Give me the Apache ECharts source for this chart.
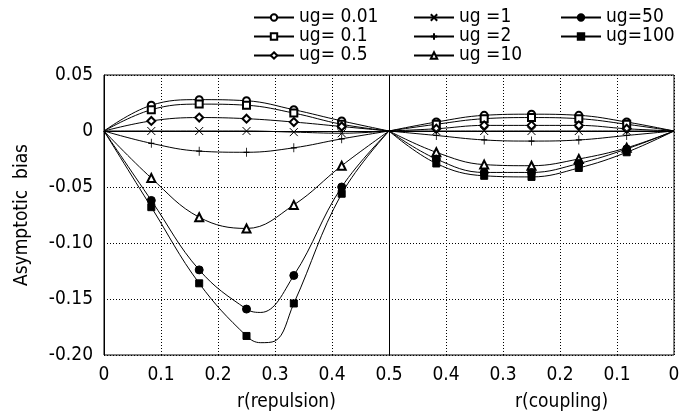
<!DOCTYPE html>
<html>
<head>
<meta charset="utf-8">
<script src="https://cdn.jsdelivr.net/npm/echarts@6/dist/echarts.min.js"></script>
<style>html,body{margin:0;padding:0;background:#fff;}#c{width:699px;height:414px;}</style>
</head>
<body>
<div id="c"></div>
<script>
// r values where the markers sit (same in both panels)
const rPoints = [0.083, 0.167, 0.25, 0.333, 0.417];

// Asymptotic bias, repulsion panel (r ascending)
const repulsion = {
  'ug= 0.01': [0.023, 0.028, 0.027, 0.019, 0.009],
  'ug= 0.1':  [0.019, 0.024, 0.023, 0.016, 0.006],
  'ug= 0.5':  [0.009, 0.012, 0.011, 0.008, 0.004],
  'ug =1':    [0.000, 0.000, 0.000, -0.001, -0.002],
  'ug =2':    [-0.011, -0.018, -0.019, -0.015, -0.007],
  'ug =10':   [-0.042, -0.077, -0.087, -0.066, -0.031],
  'ug=50':    [-0.062, -0.124, -0.159, -0.129, -0.050],
  'ug=100':   [-0.068, -0.136, -0.183, -0.154, -0.056]
};
// Curve troughs (no marker there): [r, bias]
const repulsionTrough = {
  'ug=50':  [[0.275, -0.162]],
  'ug=100': [[0.275, -0.189], [0.300, -0.1875]]
};
// Asymptotic bias, coupling panel (r ascending)
const coupling = {
  'ug= 0.01': [0.008, 0.014, 0.015, 0.014, 0.008],
  'ug= 0.1':  [0.006, 0.011, 0.012, 0.011, 0.006],
  'ug= 0.5':  [0.002, 0.005, 0.005, 0.005, 0.002],
  'ug =1':    [0.000, 0.000, 0.000, 0.000, 0.000],
  'ug =2':    [-0.004, -0.008, -0.009, -0.008, -0.004],
  'ug =10':   [-0.015, -0.025, -0.031, -0.030, -0.019],
  'ug=50':    [-0.016, -0.029, -0.037, -0.037, -0.025],
  'ug=100':   [-0.019, -0.033, -0.041, -0.040, -0.029]
};
const seriesNames = ['ug= 0.01','ug= 0.1','ug= 0.5','ug =1','ug =2','ug =10','ug=50','ug=100'];
const xTickLabels = ['0','0.1','0.2','0.3','0.4','0.5','0.4','0.3','0.2','0.1','0'];
const yTicks = [-0.20, -0.15, -0.10, -0.05, 0, 0.05];

const FONT = "'Liberation Sans Narrow', 'DejaVu Sans Condensed', 'Liberation Sans', sans-serif";
const FS = 19;
const symbols = {
  'ug= 0.01': {symbol: 'emptyCircle', size: 7},
  'ug= 0.1':  {symbol: 'emptyRect', size: 7},
  'ug= 0.5':  {symbol: 'emptyDiamond', size: 8},
  'ug =1':    {symbol: 'path://M0,0L10,10M10,0L0,10', size: 8},
  'ug =2':    {symbol: 'path://M0,5L10,5M5,0L5,10', size: [6, 9]},
  'ug =10':   {symbol: 'emptyTriangle', size: 8},
  'ug=50':    {symbol: 'circle', size: 8},
  'ug=100':   {symbol: 'rect', size: 7}
};

const series = [];
seriesNames.forEach(function (name) {
  const sym = symbols[name];
  const base = {
    name: name, type: 'line', smooth: 0.4, symbol: sym.symbol, symbolSize: sym.size,
    showAllSymbol: true,
    lineStyle: {color: '#000', width: 1},
    itemStyle: {color: '#000', borderColor: '#000', borderWidth: 1},
    emphasis: {disabled: true}, z: 3
  };
  const left = [{value: [0, 0], symbol: 'none'}];
  rPoints.forEach(function (r, i) { left.push([r, repulsion[name][i]]); });
  (repulsionTrough[name] || []).forEach(function (p) { left.push({value: p, symbol: 'none'}); });
  left.push({value: [0.5, 0], symbol: 'none'});
  left.sort(function (a, b) { return (a.value || a)[0] - (b.value || b)[0]; });
  const right = [{value: [0.5, 0], symbol: 'none'}];
  for (let i = rPoints.length - 1; i >= 0; i--) right.push([1 - rPoints[i], coupling[name][i]]);
  right.push({value: [1, 0], symbol: 'none'});
  series.push(Object.assign({}, base, {data: left}));
  series.push(Object.assign({}, base, {data: right}));
});
series[0].markLine = {
  silent: true, symbol: 'none', label: {show: false},
  lineStyle: {color: '#000', width: 1, type: 'solid'},
  data: [{xAxis: 0.5}]
};

function legendCol(left, data) {
  return {
    orient: 'vertical', left: left, top: 3, data: data, selectedMode: false,
    itemWidth: 40, itemHeight: 8, itemGap: 0,
    textStyle: {fontFamily: FONT, fontSize: FS, color: '#000', lineHeight: 16.5}
  };
}

const chart = echarts.init(document.getElementById('c'), null, {renderer: 'canvas'});
chart.setOption({
  animation: false,
  backgroundColor: '#fff',
  legend: [
    legendCol(248, seriesNames.slice(0, 3)),
    legendCol(408, seriesNames.slice(3, 6)),
    legendCol(555, seriesNames.slice(6, 8))
  ],
  grid: {left: 104, right: 25, top: 75, bottom: 59, show: true, borderColor: '#000', borderWidth: 1, backgroundColor: 'transparent'},
  xAxis: {
    type: 'value', min: 0, max: 1, interval: 0.1,
    axisLine: {show: true, lineStyle: {color: '#000'}},
    axisTick: {show: false},
    axisLabel: {
      color: '#000', fontFamily: FONT, fontSize: FS, margin: 11,
      formatter: function (v) { return xTickLabels[Math.round(v * 10)]; }
    },
    splitLine: {show: true, lineStyle: {color: '#000', type: [1, 2], width: 1}}
  },
  yAxis: {
    type: 'value', min: -0.2, max: 0.05, interval: 0.05,
    name: 'Asymptotic  bias', nameLocation: 'middle', nameGap: 72,
    nameTextStyle: {color: '#000', fontFamily: FONT, fontSize: FS},
    axisLine: {show: true, lineStyle: {color: '#000'}},
    axisTick: {show: false},
    axisLabel: {
      color: '#000', fontFamily: FONT, fontSize: FS, margin: 11,
      formatter: function (v) {
        let best = yTicks[0];
        yTicks.forEach(function (t) { if (Math.abs(t - v) < Math.abs(best - v)) best = t; });
        if (best === 0) return '0';
        return (best < 0 ? '-' : '') + Math.abs(best).toFixed(2);
      }
    },
    splitLine: {show: true, lineStyle: {color: '#000', type: [1, 2], width: 1}}
  },
  graphic: [
    {type: 'text', left: 237, top: 393, style: {text: 'r(repulsion)', fontFamily: FONT, fontSize: FS, fill: '#000', textAlign: 'center'}},
    {type: 'text', left: 515, top: 393, style: {text: 'r(coupling)', fontFamily: FONT, fontSize: FS, fill: '#000', textAlign: 'center'}}
  ],
  series: series
});
</script>
</body>
</html>
